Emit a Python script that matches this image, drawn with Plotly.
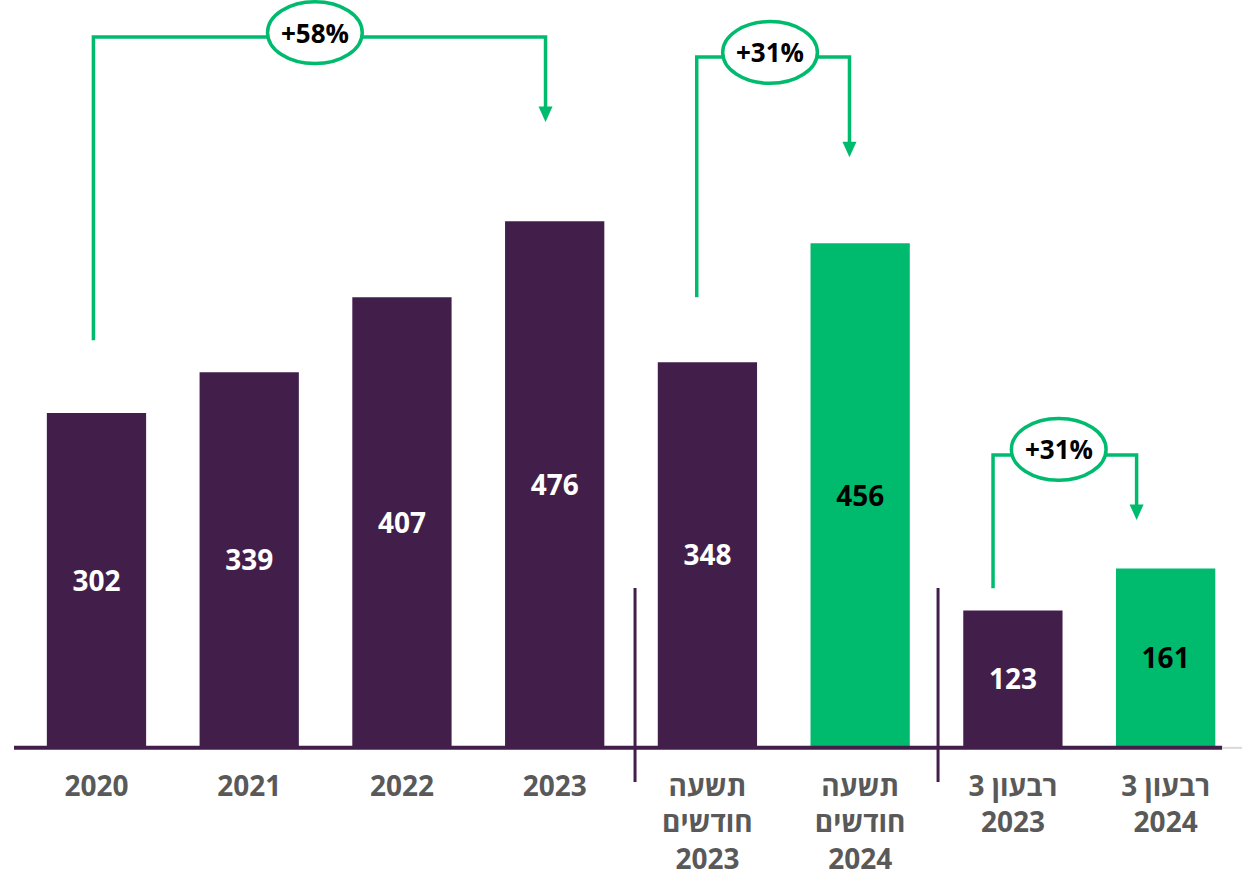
import plotly.graph_objects as go

# ---- data ----
categories = ["2020", "2021", "2022", "2023",
              "תשעה<br>חודשים<br>2023", "תשעה<br>חודשים<br>2024",
              "\u202Bרבעון 3\u202C<br>2023", "\u202Bרבעון 3\u202C<br>2024"]
values = [302, 339, 407, 476, 348, 456, 123, 161]
is_highlight = [False, False, False, False, False, True, False, True]

# growth brackets
growth_labels = ["+58%", "+31%", "+31%"]

PURPLE = "#421F4B"
GREEN = "#00BB6E"
GRAY_TXT = "#595959"
FONT = "Open Sans"

colors = [GREEN if h else PURPLE for h in is_highlight]
txtcolors = ["#000000" if h else "#FFFFFF" for h in is_highlight]
xs = list(range(len(categories)))

fig = go.Figure()
fig.add_trace(go.Bar(
    x=xs, y=values, marker=dict(color=colors, line=dict(width=0)),
    width=0.65,
    text=[str(v) for v in values], textposition="inside",
    insidetextanchor="middle",
    textfont=dict(family=FONT, size=28, color=txtcolors, weight="bold"),
    hoverinfo="skip",
))

# ---- annotation geometry (layout, in axis units) ----
br_left_x = [-0.02, 3.93, 5.87]
br_right_x = [2.94, 4.93, 6.81]
br_bottom_y = [368, 407, 143]
br_top_y = [643, 625, 264]
br_tip_y = [566, 534, 205]
ell_cx = [1.43, 4.41, 6.30]
ell_cy = [647, 629, 269]
ell_w = 0.31
ell_h = 28

shapes = []
annotations = []
for i in range(3):
    lx, rx = br_left_x[i], br_right_x[i]
    path = f"M {lx},{br_bottom_y[i]} L {lx},{br_top_y[i]} L {rx},{br_top_y[i]} L {rx},{br_tip_y[i] + 12}"
    shapes.append(dict(type="path", xref="x", yref="y", path=path,
                       line=dict(color=GREEN, width=3.5)))
    hw = 0.046
    tri = f"M {rx - hw},{br_tip_y[i] + 14} L {rx + hw},{br_tip_y[i] + 14} L {rx},{br_tip_y[i]} Z"
    shapes.append(dict(type="path", xref="x", yref="y", path=tri,
                       fillcolor=GREEN, line=dict(color=GREEN, width=0)))
    shapes.append(dict(type="circle", xref="x", yref="y",
                       x0=ell_cx[i] - ell_w, x1=ell_cx[i] + ell_w,
                       y0=ell_cy[i] - ell_h, y1=ell_cy[i] + ell_h,
                       fillcolor="white", line=dict(color=GREEN, width=3.5)))
    annotations.append(dict(x=ell_cx[i], y=ell_cy[i], xref="x", yref="y",
                            text=growth_labels[i], showarrow=False,
                            font=dict(family=FONT, size=26, color="black", weight="bold")))

# baseline
shapes.append(dict(type="line", xref="x", yref="paper", x0=-0.54, x1=7.37, y0=-0.0025, y1=-0.0025,
                   line=dict(color=PURPLE, width=4), layer="above"))
shapes.append(dict(type="line", xref="x", yref="paper", x0=7.37, x1=7.5, y0=-0.0025, y1=-0.0025,
                   line=dict(color="#D9D9D9", width=2)))
# group separators
for sx in [3.526, 5.51]:
    shapes.append(dict(type="line", xref="x", yref="paper", x0=sx, x1=sx,
                       y0=0.2118, y1=-0.0483, line=dict(color=PURPLE, width=3)))

fig.update_layout(
    width=1248, height=878,
    margin=dict(l=14, r=6, t=0, b=132),
    paper_bgcolor="white", plot_bgcolor="white",
    showlegend=False,
    shapes=shapes,
    annotations=annotations,
    xaxis=dict(range=[-0.54, 7.5], tickmode="array", tickvals=xs, ticktext=categories,
               showgrid=False, zeroline=False, showline=False, ticks="",
               ticklabelstandoff=21, automargin=False,
               tickfont=dict(family=FONT, size=28, color=GRAY_TXT, weight="bold")),
    yaxis=dict(range=[0, 676.6], visible=False, showgrid=False, zeroline=False),
)

fig.write_html("out.html", config={"displayModeBar": False},
               post_script="document.body.style.margin='0px';document.body.style.padding='0px';")
